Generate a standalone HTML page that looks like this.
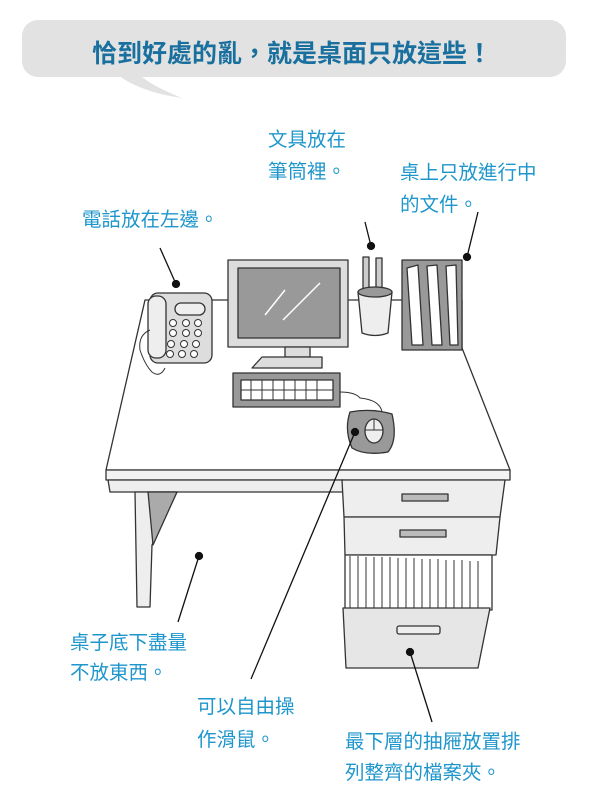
<!DOCTYPE html>
<html><head><meta charset="utf-8"><style>
body{margin:0;background:#fff;}
svg{display:block}
.t{font-family:"Liberation Sans","Noto Sans CJK TC",sans-serif;fill:#1e96cc;font-size:19.5px;}
</style></head><body>
<svg width="600" height="806" viewBox="0 0 600 806" xmlns="http://www.w3.org/2000/svg">
<rect x="22" y="20" width="544" height="57" rx="16" fill="#e2e2e2"/>
<path d="M118 75 Q140 92 182 98 Q150 85 140 75 Z" fill="#e2e2e2"/>
<text x="292" y="62" text-anchor="middle" font-family="'Liberation Sans','Noto Sans CJK TC',sans-serif" font-size="25" font-weight="bold" fill="#19709e">恰到好處的亂，就是桌面只放這些！</text>

<g class="t">
<text x="268" y="146">文具放在</text>
<text x="268" y="178">筆筒裡。</text>
<text x="400" y="179">桌上只放進行中</text>
<text x="400" y="211">的文件。</text>
<text x="82" y="226">電話放在左邊。</text>
<text x="70" y="649">桌子底下盡量</text>
<text x="70" y="679">不放東西。</text>
<text x="197" y="713">可以自由操</text>
<text x="197" y="746">作滑鼠。</text>
<text x="345" y="748">最下層的抽屜放置排</text>
<text x="345" y="779">列整齊的檔案夾。</text>
</g>

<g stroke="#333" stroke-width="1.3" fill="#fff" stroke-linejoin="round">
<polygon points="145,300 462,300 462,348 510,470 106,470"/>
<polygon points="106,470 510,470 510,480 106,480" fill="#f2f2f2"/>
<polygon points="108,480 343,480 343,492 110,492" fill="#eee"/>
<polygon points="135,492 177,492 152,545 150,607 137,607" fill="#eee"/>
<polygon points="148,492 177,492 153,545" fill="#aaa"/>
<polygon points="342,480 505,480 500,517 344,517" fill="#eee"/>
<rect x="402" y="494" width="46" height="7" fill="#bbb"/>
<polygon points="344,517 500,517 496,555 345,555" fill="#eee"/>
<rect x="400" y="530" width="46" height="7" fill="#bbb"/>
<polygon points="345,555 492,555 492,610 345,610" fill="#fff"/>
<polygon points="343,608 490,608 478,668 346,668" fill="#e6e6e6"/>
<rect x="397" y="626" width="43" height="8" rx="2" fill="#eee"/>
</g>
<g stroke="#333" stroke-width="1">
<line x1="350" y1="556" x2="350" y2="608"/><line x1="358" y1="556" x2="358" y2="608"/>
<line x1="366" y1="557" x2="366" y2="608"/><line x1="374" y1="557" x2="374" y2="608"/>
<line x1="382" y1="557" x2="382" y2="608"/><line x1="390" y1="557" x2="390" y2="608"/>
<line x1="398" y1="558" x2="398" y2="608"/><line x1="406" y1="558" x2="406" y2="608"/>
<line x1="414" y1="558" x2="414" y2="608"/><line x1="422" y1="559" x2="422" y2="608"/>
<line x1="430" y1="559" x2="430" y2="608"/><line x1="438" y1="559" x2="438" y2="608"/>
<line x1="446" y1="560" x2="446" y2="608"/><line x1="454" y1="560" x2="454" y2="608"/>
<line x1="462" y1="560" x2="462" y2="608"/><line x1="470" y1="561" x2="470" y2="608"/>
<line x1="478" y1="561" x2="478" y2="608"/>
</g>

<g stroke="#333" stroke-width="1.3" stroke-linejoin="round">
<rect x="228" y="260" width="120" height="87" fill="#ddd"/>
<rect x="238" y="268" width="102" height="70" fill="#999"/>
<line x1="265" y1="315" x2="285" y2="290" stroke="#fff" stroke-width="1.5"/>
<line x1="283" y1="320" x2="320" y2="283" stroke="#fff" stroke-width="1.5"/>
<rect x="285" y="347" width="25" height="10" fill="#ddd"/>
<polygon points="262,357 322,357 322,368 252,368" fill="#ddd"/>
<rect x="233" y="373" width="107" height="34" fill="#999"/>
<rect x="241" y="380" width="92" height="20" fill="#fff"/>
<g stroke-width="1"><line x1="241" y1="390" x2="333" y2="390"/>
<line x1="251" y1="380" x2="251" y2="400"/><line x1="262" y1="380" x2="262" y2="400"/><line x1="273" y1="380" x2="273" y2="400"/><line x1="284" y1="380" x2="284" y2="400"/><line x1="295" y1="380" x2="295" y2="400"/><line x1="306" y1="380" x2="306" y2="400"/><line x1="317" y1="380" x2="317" y2="400"/></g>
<path d="M340 392 Q355 392 360 398 Q380 400 382 412" fill="none" stroke-width="1"/>
<path d="M350 412 Q372 408 392 414 Q398 440 388 452 Q365 456 352 448 Q344 430 350 412 Z" fill="#999"/>
<ellipse cx="374" cy="431" rx="9" ry="12" fill="#eee"/>
<line x1="365" y1="430" x2="383" y2="430" stroke-width="1"/><line x1="374" y1="419" x2="374" y2="430" stroke-width="1"/>
<rect x="363" y="257" width="6" height="45" fill="#ccc"/>
<rect x="376" y="258" width="6" height="44" fill="#ccc"/>
<path d="M358 292 L392 292 L388 333 Q375 338 362 333 Z" fill="#eee"/>
<ellipse cx="375" cy="292" rx="17" ry="5" fill="#999"/>
<rect x="402" y="260" width="60" height="90" fill="#999"/>
<path d="M407 268 L418 265 L423 345 L412 345 Z" fill="#fff"/>
<path d="M427 266 L437 265 L442 345 L432 345 Z" fill="#fff"/>
<path d="M446 266 L456 265 L458 345 L450 345 Z" fill="#fff"/>
<rect x="150" y="293" width="62" height="70" rx="8" fill="#ddd"/>
<rect x="148" y="296" width="18" height="62" rx="8" fill="#eee"/>
<rect x="175" y="303" width="30" height="12" rx="6" fill="#eee"/>
<g fill="#fff" stroke-width="1">
<circle cx="173" cy="323" r="3.5"/><circle cx="186" cy="323" r="3.5"/><circle cx="198" cy="323" r="3.5"/>
<circle cx="173" cy="333" r="3.5"/><circle cx="186" cy="333" r="3.5"/><circle cx="198" cy="333" r="3.5"/>
<circle cx="171" cy="344" r="3.5"/><circle cx="184" cy="344" r="3.5"/><circle cx="196" cy="344" r="3.5"/>
<circle cx="170" cy="354" r="3.5"/><circle cx="182" cy="354" r="3.5"/><circle cx="194" cy="354" r="3.5"/>
</g>
<path d="M150 330 Q138 335 140 350 Q145 365 152 372 Q160 378 165 368" fill="none" stroke-width="1"/>
</g>

<g stroke="#111" stroke-width="1.3" fill="#111">
<line x1="160" y1="248" x2="176" y2="284"/><circle cx="176" cy="284" r="3.5"/>
<line x1="365" y1="222" x2="371" y2="246"/><circle cx="371" cy="246" r="3.5"/>
<line x1="478" y1="212" x2="467" y2="257"/><circle cx="467" cy="257" r="3.5"/>
<line x1="199" y1="556" x2="178" y2="622"/><circle cx="199" cy="556" r="3.5"/>
<line x1="355" y1="432" x2="251" y2="679"/><circle cx="355" cy="432" r="3.5"/>
<line x1="410" y1="652" x2="432" y2="722"/><circle cx="410" cy="652" r="3.5"/>
</g>
</svg>
</body></html>
